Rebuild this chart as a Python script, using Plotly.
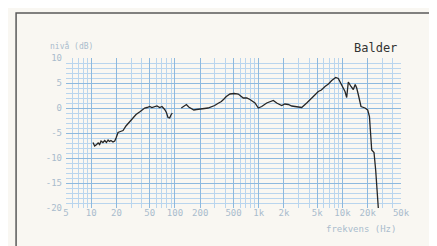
import plotly.graph_objects as go
import math

# Frequency response (Hz, dB); None marks the gap in the trace near 100 Hz
freq = [10.5, 11.0, 11.6, 12.1, 12.6, 13.1, 13.8, 14.5, 15.2, 15.9, 16.5, 17.2, 18.2, 19.1, 19.8,
        20.9, 22.3, 24.0, 26.0, 28.8, 31.0, 34.3, 38.5, 43.5, 46.5, 49.9, 53.0, 57.3, 61.0,
        65.7, 70.0, 75.4, 79.0, 82.6, 86.5, 89.5, 93.0, None,
        119, 127, 137, 146, 157, 168, 180, 192, 206, 225, 248, 270, 298, 325, 358, 385, 410, 454,
        510, 570, 654, 720, 787, 903, 989, 1086, 1246,
        1494, 1640, 1882, 2050, 2256, 2480, 2712, 3261, 3741, 4100, 4487, 5146, 5600, 6187, 6800,
        7439, 8304, 8918, 9795,
        10400, 10726, 11234, 11743, 12647, 13473, 14200, 14791, 15454, 16648, 18584, 20020,
        21000, 21327, 22348, 23807, 24946, 26792]
level = [-6.9, -7.6, -7.3, -7.0, -7.3, -6.6, -6.9, -6.5, -6.9, -6.4, -6.7, -6.5, -6.8, -6.6, -6.0,
         -4.9, -4.7, -4.5, -3.6, -2.7, -2.1, -1.3, -0.7, 0.0, 0.1, 0.3, 0.1, 0.2, 0.4,
         0.1, 0.3, -0.3, -0.9, -1.9, -2.0, -1.4, -1.0, None,
         0.0, 0.4, 0.7, 0.2, -0.1, -0.4, -0.3, -0.2, -0.1, -0.1, 0.0, 0.2, 0.5, 0.9, 1.3, 1.8, 2.3, 2.8,
         2.9, 2.8, 2.0, 2.0, 1.7, 1.0, 0.0, 0.3, 1.0,
         1.5, 1.0, 0.5, 0.8, 0.7, 0.4, 0.3, 0.1, 1.0, 1.6, 2.3, 3.3, 3.6, 4.3, 4.8,
         5.5, 6.1, 5.9, 4.5,
         3.6, 3.3, 2.1, 5.2, 4.3, 3.7, 4.7, 4.0, 2.7, 0.3, 0.0, -0.4,
         -1.7, -4.0, -8.4, -8.9, -12.5, -20.0]

x_major = [5, 10, 20, 50, 100, 200, 500, 1000, 2000, 5000, 10000, 20000, 50000]
x_labels = ["5", "10", "20", "50", "100", "200", "500", "1k", "2k", "5k", "10k", "20k", "50k"]
x_minor = [m * d for d in [1, 10, 100, 1000, 10000] for m in [3, 4, 6, 7, 8, 9]]
y_major = [10, 5, 0, -5, -10, -15, -20]
y_labels = ["10", "5", "0", "-5", "-10", "-15", "-20"]

title_text = "Balder"
x_title = "frekvens (Hz)"
y_title = "nivå (dB)"

tick_col = "#a9bccd"
font_mono = "DejaVu Sans Mono"

fig = go.Figure()
fig.add_trace(go.Scatter(x=freq, y=level, mode="lines", connectgaps=False,
                         line=dict(color="#262626", width=1.3), hoverinfo="skip"))

fig.update_layout(
    width=437, height=246,
    margin=dict(l=58, r=44, t=50, b=46),
    paper_bgcolor="#f9f7f2", plot_bgcolor="#f9f7f2",
    showlegend=False,
    font=dict(family=font_mono, size=9, color=tick_col),
)
fig.update_xaxes(type="log", range=[math.log10(5), math.log10(50000)],
                 tickvals=x_major, ticktext=x_labels, ticks="", ticklabelstandoff=-2,
                 showgrid=True, gridcolor="#8db9df", gridwidth=1.2,
                 showline=False, zeroline=False,
                 tickfont=dict(family=font_mono, size=9, color=tick_col),
                 minor=dict(tickvals=x_minor, showgrid=True, gridcolor="#b9d5ee", gridwidth=1, ticks=""))
fig.update_yaxes(range=[-20, 10], tickvals=y_major, ticktext=y_labels, ticks="", ticklabelstandoff=3,
                 showgrid=True, gridcolor="#8db9df", gridwidth=1.2,
                 showline=False, zeroline=False,
                 tickfont=dict(family=font_mono, size=9, color=tick_col),
                 minor=dict(dtick=1, showgrid=True, gridcolor="#b9d5ee", gridwidth=1, ticks=""))

# outer frame of the figure panel (right side runs off the picture)
fig.add_shape(type="rect", xref="paper", yref="paper",
              x0=-0.149, x1=1.25, y0=-0.28, y1=1.30,
              line=dict(color="#5a5a5a", width=1.5), fillcolor="rgba(0,0,0,0)", layer="below")

fig.add_annotation(text=title_text, xref="paper", yref="paper", x=0.995, y=1.067,
                   xanchor="right", yanchor="middle", showarrow=False,
                   font=dict(family=font_mono, size=12, color="#333333"))
fig.add_annotation(text=y_title, xref="paper", yref="paper", x=-0.054, y=1.078,
                   xanchor="left", yanchor="middle", showarrow=False,
                   font=dict(family=font_mono, size=8, color=tick_col))
fig.add_annotation(text=x_title, xref="paper", yref="paper", x=0.99, y=-0.14,
                   xanchor="right", yanchor="middle", showarrow=False,
                   font=dict(family=font_mono, size=9, color=tick_col))

fig.write_html("out.html")
